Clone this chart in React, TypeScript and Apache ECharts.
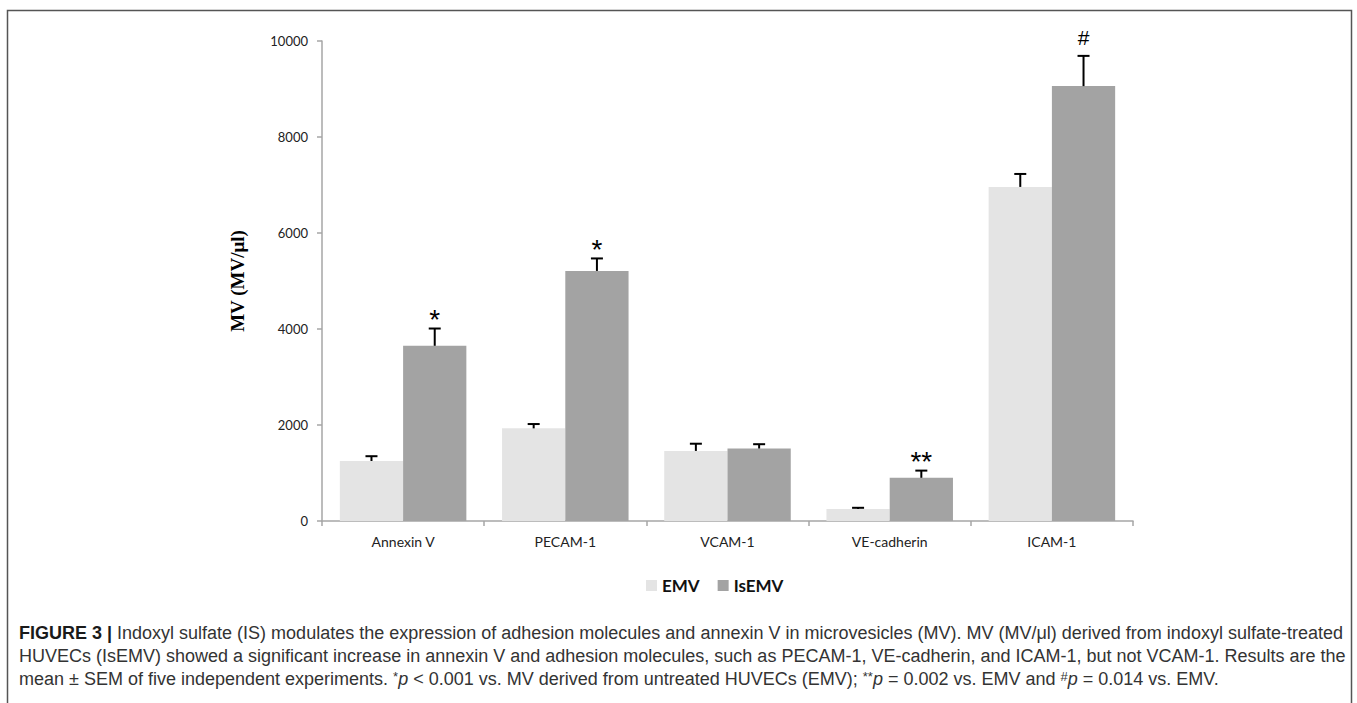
import React, { useEffect, useRef } from "react";
import * as echarts from "echarts";

const categories = ["Annexin V", "PECAM-1", "VCAM-1", "VE-cadherin", "ICAM-1"];
const emvValues = [1250, 1930, 1460, 250, 6960];
const emvErrors = [100, 90, 150, 25, 270];
const isemvValues = [3650, 5210, 1510, 900, 9060];
const isemvErrors = [360, 260, 90, 150, 630];
const isemvMarks = ["*", "*", "", "**", "#"];
const yTicks = { min: 0, max: 10000, interval: 2000 };

const captionLines = [
  "{b|FIGURE 3 |} Indoxyl sulfate (IS) modulates the expression of adhesion molecules and annexin V in microvesicles (MV). MV (MV/\u03bcl) derived from indoxyl sulfate-treated",
  "HUVECs (IsEMV) showed a significant increase in annexin V and adhesion molecules, such as PECAM-1, VE-cadherin, and ICAM-1, but not VCAM-1. Results are the",
  "mean \u00b1 SEM of five independent experiments. {s|*}{i|p} < 0.001 vs. MV derived from untreated HUVECs (EMV); {s|**}{i|p} = 0.002 vs. EMV and {s|#}{i|p} = 0.014 vs. EMV.",
];

const BAR_GAP_RATIO = 0.22;

export default function App() {
  const ref = useRef<HTMLDivElement>(null);
  useEffect(() => {
    if (!ref.current) return;
    const chart = echarts.init(ref.current, undefined, { renderer: "svg" });

    const errSeries = (vals: number[], errs: number[], side: number, marks?: string[]) => ({
      type: "custom",
      silent: true,
      z: 10,
      data: vals.map((v, i) => [i, v, errs[i]]),
      renderItem: (params: any, api: any) => {
        const i = api.value(0);
        const v = api.value(1);
        const e = api.value(2);
        const base = api.coord([i, v]);
        const top = api.coord([i, v + e]);
        const cw = api.size([1, 0])[0];
        const bw = (cw * (1 - BAR_GAP_RATIO)) / 2;
        const x = base[0] + (side * bw) / 2;
        const children: any[] = [
          { type: "line", shape: { x1: x, y1: base[1], x2: x, y2: top[1] }, style: { stroke: "#000", lineWidth: 2 } },
          { type: "line", shape: { x1: x - 6, y1: top[1], x2: x + 6, y2: top[1] }, style: { stroke: "#000", lineWidth: 2 } },
        ];
        const m = marks ? marks[params.dataIndex] : "";
        if (m) {
          const isHash = m === "#";
          children.push({
            type: "text",
            x: x,
            y: isHash ? top[1] - 8 : top[1] + 5,
            style: {
              text: m,
              align: "center",
              verticalAlign: "bottom",
              fontSize: isHash ? 21 : 28,
              fontFamily: "Liberation Sans",
              fill: "#000",
            },
          });
        }
        return { type: "group", children };
      },
    });

    const capStyle = { fontFamily: "Liberation Sans", fontSize: 18, fill: "#333" };

    chart.setOption({
      animation: false,
      backgroundColor: "#fff",
      grid: { left: 322, right: 224, top: 41, bottom: 182 },
      legend: {
        data: ["EMV", "IsEMV"],
        left: 641,
        top: 572,
        itemWidth: 11,
        itemHeight: 11,
        itemGap: 18,
        icon: "rect",
        textStyle: { fontFamily: "Lato", fontWeight: "bold", fontSize: 17, color: "#111" },
      },
      xAxis: {
        type: "category",
        data: categories,
        axisLine: { lineStyle: { color: "#a6a6a6", width: 1.5 } },
        axisTick: { show: true, length: 5, lineStyle: { color: "#a6a6a6", width: 1.5 } },
        axisLabel: { fontFamily: "Lato", fontSize: 14, color: "#222", margin: 13 },
      },
      yAxis: {
        type: "value",
        min: yTicks.min,
        max: yTicks.max,
        interval: yTicks.interval,
        name: "MV (MV/\u03bcl)",
        nameLocation: "middle",
        nameRotate: 90,
        nameGap: 75,
        nameTextStyle: { fontFamily: "Liberation Serif", fontWeight: "bold", fontSize: 19, color: "#000" },
        axisLine: { show: true, lineStyle: { color: "#a6a6a6", width: 1.5 } },
        axisTick: { show: true, length: 5, lineStyle: { color: "#a6a6a6", width: 1.5 } },
        splitLine: { show: false },
        axisLabel: {
          fontFamily: "Lato",
          fontSize: 13,
          color: "#222",
          margin: 14,
          formatter: (v: number) => String(v),
        },
      },
      series: [
        {
          name: "EMV",
          type: "bar",
          data: emvValues,
          barGap: "0%",
          barCategoryGap: "22%",
          itemStyle: { color: "#e4e4e4" },
        },
        {
          name: "IsEMV",
          type: "bar",
          data: isemvValues,
          barGap: "0%",
          barCategoryGap: "22%",
          itemStyle: { color: "#a3a3a3" },
        },
        errSeries(emvValues, emvErrors, -1),
        errSeries(isemvValues, isemvErrors, 1, isemvMarks),
      ],
      graphic: [
        {
          type: "rect",
          shape: { x: 7.5, y: 10.5, width: 1344, height: 720 },
          style: { fill: "none", stroke: "#555", lineWidth: 1.5 },
          silent: true,
        },
        ...captionLines.map((line, k) => ({
          type: "text",
          x: 19,
          y: 633 + k * 23,
          style: {
            text: line,
            verticalAlign: "middle",
            ...capStyle,
            rich: {
              b: { ...capStyle, fontWeight: "bold", fill: "#1a1a1a" },
              i: { ...capStyle, fontStyle: "italic" },
              s: { ...capStyle, fontSize: 13, verticalAlign: "top" },
            },
          },
        })),
      ],
    });
    return () => chart.dispose();
  }, []);
  return <div ref={ref} style={{ position: "fixed", left: 0, top: 0, width: 1357, height: 703 }} />;
}
